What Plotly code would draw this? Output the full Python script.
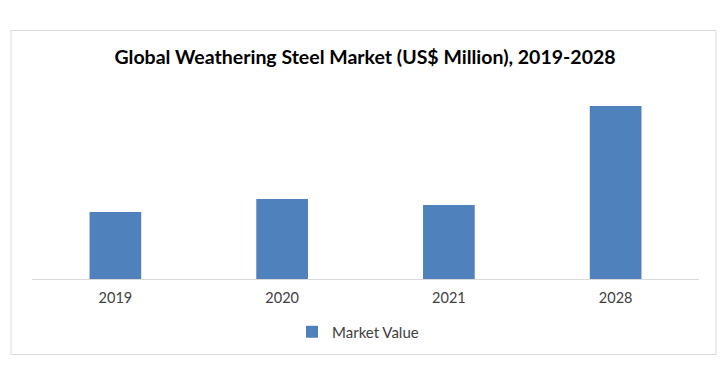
import plotly.graph_objects as go

years = ["2019", "2020", "2021", "2028"]
market_value = [670, 800, 740, 1730]

W, H = 722, 372
left, right = 31.5, 699.5
top, bottom = 90, 279
pw, ph = right - left, bottom - top

def px_x(x):
    return (x - left) / pw

def px_y(y):
    return (bottom - y) / ph

fig = go.Figure()
fig.add_trace(go.Bar(
    x=years, y=market_value, name="Market Value",
    marker=dict(color="#4F81BD", line=dict(width=0)),
    width=0.31,
))

fig.update_layout(
    width=W, height=H,
    margin=dict(l=left, r=W - right, t=top, b=H - bottom, pad=0),
    paper_bgcolor="white", plot_bgcolor="white",
    font=dict(family="Lato, Open Sans, sans-serif", color="#404040"),
    title=dict(
        text="<b>Global Weathering Steel Market (US$ Million), 2019-2028</b>",
        x=px_x(365), xanchor="center", xref="paper", y=1 - 57 / H, yanchor="middle",
        font=dict(size=19.5, color="black", family="Lato, sans-serif"),
    ),
    xaxis=dict(
        type="category", showline=True, linecolor="#D9D9D9", linewidth=1,
        showgrid=False, ticks="", tickfont=dict(size=14.5, color="#404040"),
        ticklabelstandoff=6,
        fixedrange=True,
    ),
    yaxis=dict(range=[0, 1890], visible=False, showgrid=False, fixedrange=True),
    showlegend=True,
    legend=dict(
        orientation="h", x=px_x(358), xanchor="center",
        y=px_y(332), yanchor="middle",
        font=dict(size=15, color="#404040"),
        itemwidth=30,
    ),
    bargap=0.69,
    shapes=[dict(
        type="rect", xref="paper", yref="paper",
        x0=px_x(10.5), x1=px_x(716.5), y0=px_y(354.5), y1=px_y(30.5),
        line=dict(color="#D9D9D9", width=1), fillcolor="rgba(0,0,0,0)",
        layer="below",
    )],
)

fig.write_html("out.html", config={"displayModeBar": False},
               post_script="document.body.style.margin='0';")
